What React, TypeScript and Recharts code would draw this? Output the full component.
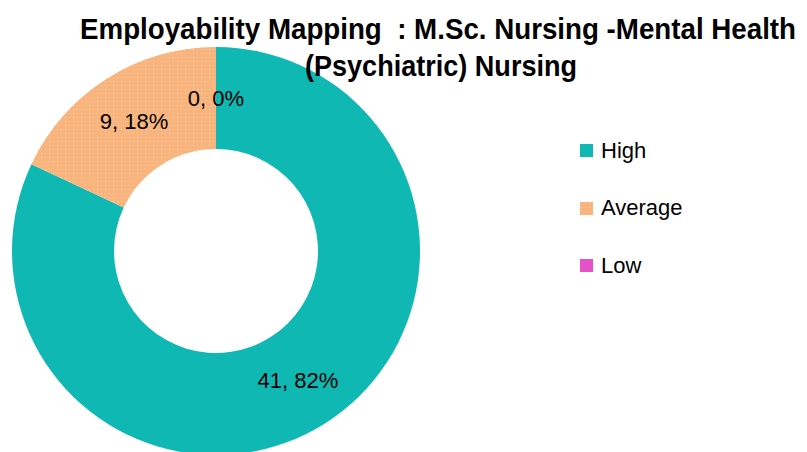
import { PieChart, Pie, Cell, Legend } from 'recharts'

const categories = ['High', 'Average', 'Low']
const counts = [41, 9, 0]
const colors = ['#0FB8B2', '#F8B47C', '#E651C8']
const fills = ['#0FB8B2', 'url(#dotsAverage)', '#E651C8']

const titleLines = ['Employability Mapping  : M.Sc. Nursing -Mental Health', '(Psychiatric) Nursing']

const data = categories.map((name, i) => ({ name, value: counts[i] }))
const total = counts.reduce((a, b) => a + b, 0)

const RADIAN = Math.PI / 180

const renderLabel = (props: any) => {
  const { cx, cy, midAngle, innerRadius, outerRadius, value } = props
  const r = (innerRadius + outerRadius) / 2
  const x = cx + r * Math.cos(-midAngle * RADIAN)
  const y = cy + r * Math.sin(-midAngle * RADIAN)
  const pct = Math.round((value / total) * 100)
  return (
    <text x={x} y={y} textAnchor="middle" dominantBaseline="central" fill="#000" fontSize={22} fontFamily="Liberation Sans, Arial, sans-serif">
      {`${value}, ${pct}%`}
    </text>
  )
}

const renderLegend = () => (
  <div style={{ fontFamily: 'Liberation Sans, Arial, sans-serif', fontSize: 22, color: '#000' }}>
    {categories.map((name, i) => (
      <div key={name} style={{ display: 'flex', alignItems: 'center', height: 57.5 }}>
        <svg width={13} height={13} style={{ marginRight: 8 }}>
          <rect width={13} height={13} fill={fills[i]} />
        </svg>
        <span>{name}</span>
      </div>
    ))}
  </div>
)

export default function App() {
  return (
    <div style={{ position: 'absolute', left: 0, top: 0, width: 807, height: 452, background: '#fff', overflow: 'hidden' }}>
      <svg width={0} height={0} style={{ position: 'absolute' }}>
        <defs>
          <pattern id="dotsAverage" width={4} height={4} patternUnits="userSpaceOnUse">
            <rect width={4} height={4} fill={colors[1]} />
            <rect x={1} y={1} width={1} height={1} fill="#FCD3B0" />
          </pattern>
        </defs>
      </svg>
      <PieChart width={807} height={452} margin={{ top: 0, right: 0, bottom: 0, left: 0 }}>
        <Pie
          data={data}
          dataKey="value"
          nameKey="name"
          cx={216}
          cy={251}
          innerRadius={102}
          outerRadius={204}
          startAngle={90}
          endAngle={-270}
          stroke="none"
          label={renderLabel}
          labelLine={false}
          isAnimationActive={false}
        >
          {data.map((d, i) => (
            <Cell key={d.name} fill={fills[i]} />
          ))}
        </Pie>
        <Legend
          content={renderLegend}
          layout="vertical"
          wrapperStyle={{ position: 'absolute', left: 580, top: 122, width: 150 }}
        />
      </PieChart>
      <svg width={807} height={452} style={{ position: 'absolute', left: 0, top: 0, pointerEvents: 'none' }}>
        <text x={438} y={39} textAnchor="middle" fontFamily="Liberation Sans Narrow, Liberation Sans, Arial, sans-serif" fontWeight="bold" fontSize={29} textLength={716} lengthAdjust="spacingAndGlyphs" style={{ whiteSpace: 'pre' }}>
          {titleLines[0]}
        </text>
        <text x={441} y={76} textAnchor="middle" fontFamily="Liberation Sans Narrow, Liberation Sans, Arial, sans-serif" fontWeight="bold" fontSize={29} textLength={272} lengthAdjust="spacingAndGlyphs">
          {titleLines[1]}
        </text>
      </svg>
    </div>
  )
}
